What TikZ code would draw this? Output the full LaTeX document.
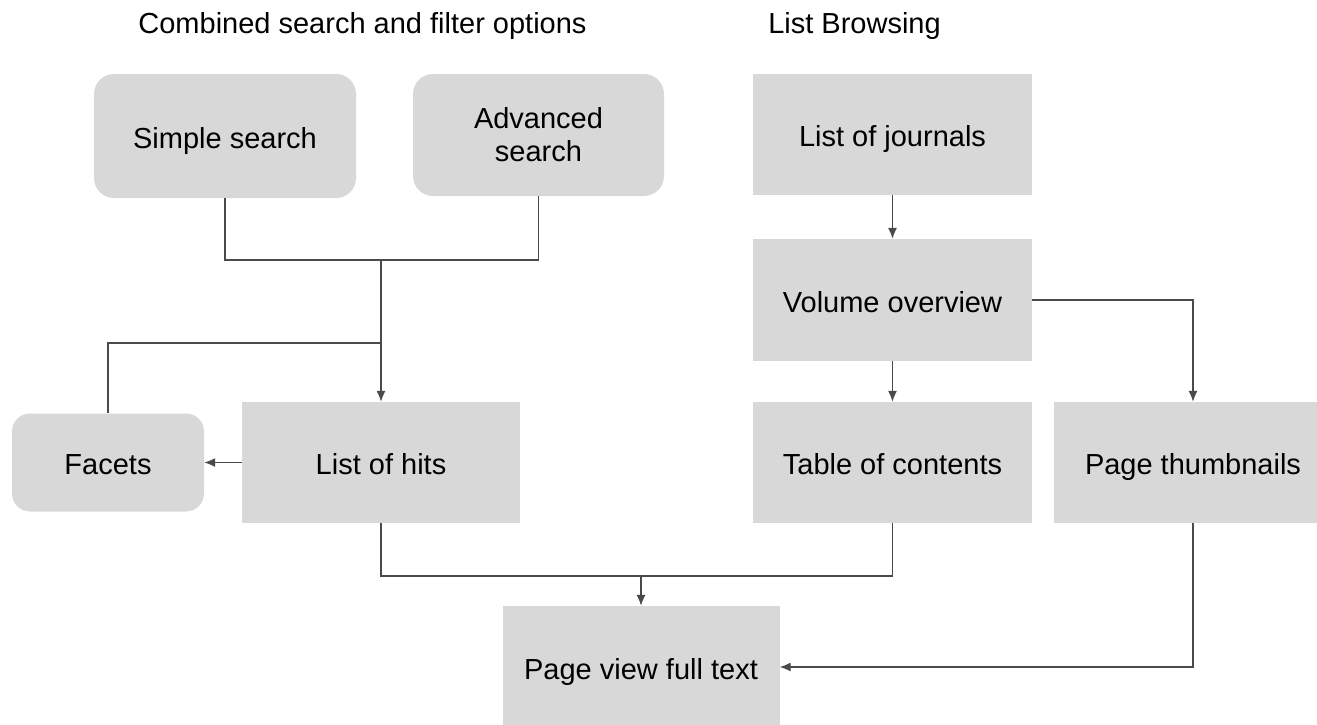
\documentclass[tikz,border=0pt]{standalone}
\usepackage{fontspec}
\setmainfont{Liberation Sans}
\usetikzlibrary{arrows.meta}
\definecolor{boxgray}{HTML}{D8D8D8}
\definecolor{linegray}{HTML}{4A4A4A}
\begin{document}
\begin{tikzpicture}[x=1pt,y=-1pt,
  txt/.style={font=\fontsize{29}{33}\selectfont, text=black},
  sqbox/.style={txt, rectangle, fill=boxgray, draw=none, inner sep=0pt, minimum width=279pt, minimum height=121pt, align=center},
  oneline/.style={text height=26pt, text depth=2pt},
  rbox/.style={sqbox, rounded corners=20pt},
  conn/.style={draw=linegray, line width=1.3pt},
  arr/.style={conn, -{Latex[length=11pt,width=9pt]}},
  title/.style={font=\fontsize{29}{33}\selectfont, text=black, inner sep=0pt, anchor=base}
]
\useasboundingbox (0,0) rectangle (1317,724);
\clip (0,0) rectangle (1317,724);

% titles
\node[title] (t1) at (362.5,33) {Combined search and filter options};
\node[title] (t2) at (854.5,33) {List Browsing};

% boxes
\node[rbox, oneline, minimum width=262pt, minimum height=124pt] (ss) at (225,136) {Simple search};
\node[rbox, minimum width=251pt, minimum height=122pt] (as) at (538.5,135) {Advanced\\search};
\node[sqbox, oneline] (journals) at (892.5,134.5) {List of journals};
\node[sqbox, oneline, minimum height=122pt] (volume) at (892.5,300) {Volume overview};
\node[sqbox, oneline, minimum width=278pt] (hits) at (381,462.5) {List of hits};
\node[rbox, oneline, minimum width=192pt, minimum height=98pt, rounded corners=18pt] (facets) at (108,462.5) {Facets};
\node[sqbox, oneline] (toc) at (892.5,462.5) {Table of contents};
\node[sqbox, oneline] (thumbs) at (1193,462.5) {Page thumbnails};
\node[sqbox, oneline, minimum width=277pt, minimum height=122pt] (pv) at (641,667) {Page view full text};

% junctions
\coordinate (j1) at (381,260);
\coordinate (j2) at (381,343);
\coordinate (j3) at (641,576);

% connectors
\draw[conn] (ss.south) |- (j1) -| (as.south);
\draw[arr] (j1) -- (hits.north);
\draw[conn] (facets.north) |- (j2);
\draw[arr] (hits.west) -- (facets.east);
\draw[arr] (journals.south) -- (volume.north);
\draw[arr] (volume.south) -- (toc.north);
\draw[arr] (volume.east) -| (thumbs.north);
\draw[conn] (hits.south) |- (j3) -| (toc.south);
\draw[arr] (j3) -- (pv.north);
\draw[arr] (thumbs.south) |- (pv.east);
\end{tikzpicture}
\end{document}
